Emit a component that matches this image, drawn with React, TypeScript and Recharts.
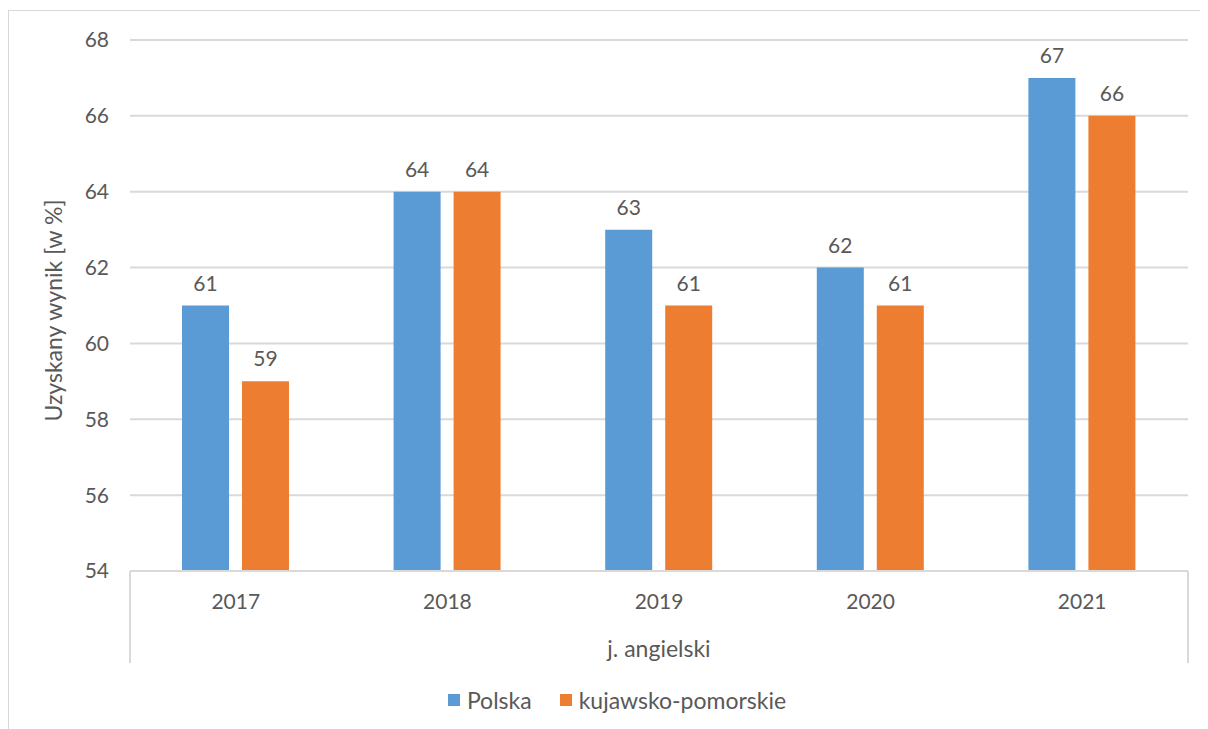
import React from 'react';
import { BarChart, Bar, XAxis, YAxis, CartesianGrid, Legend, LabelList } from 'recharts';

const years = ['2017', '2018', '2019', '2020', '2021'];
const polska = [61, 64, 63, 62, 67];
const kujawsko = [59, 64, 61, 61, 66];
const yTicks = [54, 56, 58, 60, 62, 64, 66, 68];
const groupLabel = 'j. angielski';
const seriesNames = ['Polska', 'kujawsko-pomorskie'];

const BLUE = '#5B9BD5';
const ORANGE = '#ED7D31';
const TEXT = '#595959';
const GRID = '#d9d9d9';
const FONT = 'Lato, "Open Sans", sans-serif';
const NUM_SIZE = 21;
const TXT_SIZE = 23;

const data = years.map((y, i) => ({ year: y, polska: polska[i], kujawsko: kujawsko[i] }));

const XTick = (props: any) => {
  const { x, y, payload, index, width, visibleTicksCount } = props;
  const n = visibleTicksCount || years.length;
  const band = (width || 1058) / n;
  const top = y - 8;
  return (
    <g>
      <text x={x} y={y + 30} textAnchor="middle" fill={TEXT} fontSize={NUM_SIZE} fontFamily={FONT}>
        {payload.value}
      </text>
      {index === 0 && <line x1={x - band / 2} x2={x - band / 2} y1={top} y2={top + 92} stroke={GRID} strokeWidth={2} />}
      {index === n - 1 && <line x1={x + band / 2} x2={x + band / 2} y1={top} y2={top + 92} stroke={GRID} strokeWidth={2} />}
    </g>
  );
};

const LegendContent = () => (
  <div style={{ display: 'flex', justifyContent: 'center', fontFamily: FONT, fontSize: TXT_SIZE, color: TEXT, lineHeight: '28px' }}>
    {seriesNames.map((name, i) => (
      <div key={name} style={{ display: 'flex', alignItems: 'center', marginRight: i === 0 ? 28 : 0 }}>
        <span style={{ display: 'inline-block', width: 12, height: 12, background: i === 0 ? BLUE : ORANGE, marginRight: 7 }} />
        <span>{name}</span>
      </div>
    ))}
  </div>
);

export default function App() {
  return (
    <div style={{ width: 1220, height: 730, border: `1px solid ${GRID}`, marginTop: 2, background: '#fff', position: 'relative' }}>
      <BarChart
        width={1220}
        height={718}
        data={data}
        margin={{ top: 29, right: 41, left: 0, bottom: 66 }}
        barSize={47}
        barGap={13}
      >
        <CartesianGrid vertical={false} stroke={GRID} strokeWidth={2} />
        <XAxis
          dataKey="year"
          height={92}
          axisLine={{ stroke: GRID, strokeWidth: 2 }}
          tickLine={false}
          tick={<XTick />}
          interval={0}
          label={(p: any) => {
            const vb = p.viewBox || {};
            return (
              <text x={vb.x + vb.width / 2} y={vb.y + 86} textAnchor="middle" fill={TEXT} fontSize={TXT_SIZE} fontFamily={FONT}>
                {groupLabel}
              </text>
            );
          }}
        />
        <YAxis
          width={121}
          domain={[54, 68]}
          ticks={yTicks}
          axisLine={false}
          tickLine={false}
          tickMargin={15}
          tick={{ fill: TEXT, fontSize: NUM_SIZE, fontFamily: FONT }}
          label={(p: any) => {
            const vb = p.viewBox || {};
            const cx = vb.x + 47;
            const cy = vb.y + vb.height / 2 + 5;
            return (
              <text x={cx} y={cy} transform={`rotate(-90 ${cx} ${cy})`} textAnchor="middle" dominantBaseline="middle" fill={TEXT} fontSize={TXT_SIZE} fontFamily={FONT}>
                Uzyskany wynik [w %]
              </text>
            );
          }}
        />
        <Legend
          layout="horizontal"
          verticalAlign="middle"
          content={<LegendContent />}
          wrapperStyle={{ top: 675, left: 0, width: 1216 }}
        />
        <Bar dataKey="polska" name={seriesNames[0]} fill={BLUE} isAnimationActive={false}>
          <LabelList dataKey="polska" position="top" offset={15} fill={TEXT} fontSize={NUM_SIZE} fontFamily={FONT} />
        </Bar>
        <Bar dataKey="kujawsko" name={seriesNames[1]} fill={ORANGE} isAnimationActive={false}>
          <LabelList dataKey="kujawsko" position="top" offset={15} fill={TEXT} fontSize={NUM_SIZE} fontFamily={FONT} />
        </Bar>
      </BarChart>
    </div>
  );
}
